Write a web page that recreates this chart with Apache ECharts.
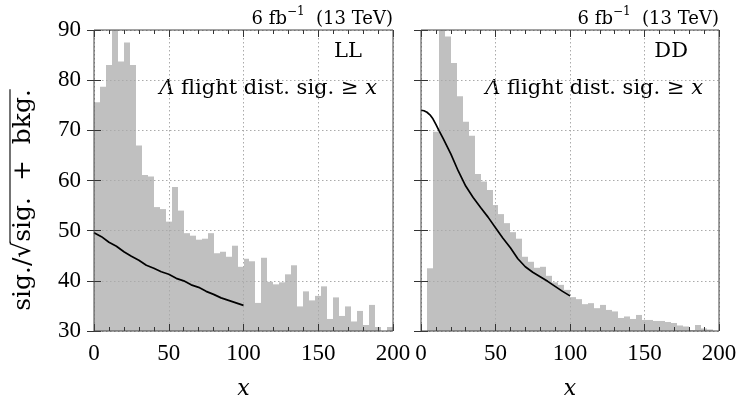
<!DOCTYPE html>
<html><head><meta charset="utf-8">
<script src="https://cdn.jsdelivr.net/npm/echarts@6/dist/echarts.min.js"></script>
<style>html,body{margin:0;padding:0;background:#fff}#c{width:740px;height:406px}</style>
</head><body><div id="c"></div>
<script>
// ---------- data ----------
const binLow  = [0,4,8,12,16,20,24,28,32,36,40,44,48,52,56,60,64,68,72,76,80,84,88,92,96,
                 100,104,108,112,116,120,124,128,132,136,140,144,148,152,156,160,164,168,172,176,180,184,188,192,196];
const binHigh = [4,8,12,16,20,24,28,32,36,40,44,48,52,56,60,64,68,72,76,80,84,88,92,96,100,
                 104,108,112,116,120,124,128,132,136,140,144,148,152,156,160,164,168,172,176,180,184,188,192,196,200];
const llValues = [75.6,78.7,83.0,91.0,83.7,87.5,83.0,67.0,61.1,60.8,
                  54.7,54.3,51.8,58.7,54.0,49.5,49.0,48.2,48.4,49.5,
                  45.5,45.8,44.8,47.0,42.8,44.4,43.9,35.6,44.6,39.8,
                  39.3,39.7,41.3,43.1,34.9,37.9,36.1,37.0,38.9,32.4,
                  36.7,33.0,34.9,31.9,34.0,31.2,35.2,30.8,29.0,30.8];
const ddValues = [29.0,42.5,69.7,92.0,88.7,83.4,76.8,71.7,68.9,61.3,
                  59.8,58.1,55.1,53.3,51.5,49.7,48.4,44.8,43.8,42.6,
                  42.8,41.0,39.7,39.2,38.2,36.75,36.35,35.35,35.55,34.55,
                  35.2,34.2,33.9,32.6,32.9,32.4,33.2,32.2,32.2,32.0,
                  32.0,31.8,31.6,31.1,30.9,30.2,31.2,30.5,30.3,29.0];
const llLineX = [0,5,10,15,20,25,30,35,40,45,50,55,60,65,70,75,80,85,90,95,100];
const llLineY = [49.6,48.8,47.7,46.9,45.8,44.9,44.1,43.1,42.5,41.8,41.3,40.5,40.0,39.2,38.7,37.9,37.3,36.6,36.1,35.6,35.1];
const ddLineX = [0,2,4,6,8,10,12,15,20,25,30,35,40,45,50,55,60,65,70,75,80,85,90,95,100];
const ddLineY = [74.0,73.9,73.6,73.1,72.3,71.2,70.0,68.3,65.3,61.9,58.9,56.6,54.6,52.7,50.6,48.5,46.6,44.4,42.8,41.7,40.8,39.9,38.9,37.9,37.0];
const xTicks = [0,50,100,150,200];
const yTicks = [30,40,50,60,70,80,90];
const panelTags = ['LL','DD'];
const lumiText = ['6 fb', '\u22121', '(13 TeV)'];
const yNamePrefix = 'sig./\u221A';
const yNameRadicand = 'sig.  +  bkg.';

// ---------- styling ----------
const FONT_TXT = '"DejaVu Serif", serif';
const FONT_NUM = '"Liberation Serif", serif';
const tickColor = '#333';
const barColor = '#c0c0c0';
const gridLeft = [94, 421];
const gridW = [299, 298];

const chart = echarts.init(document.getElementById('c'), null, {renderer: 'canvas'});

const yMin = yTicks[0], yMax = yTicks[yTicks.length - 1];
function renderBar(params, api) {
  const v = api.value(2);
  if (v <= yMin) return null;
  const top = Math.min(v, yMax);
  const p0 = api.coord([api.value(0), top]);
  const p1 = api.coord([api.value(1), yMin]);
  const x0 = Math.round(p0[0]), x1 = Math.round(p1[0]);
  return {type: 'rect', shape: {x: x0, y: p0[1], width: x1 - x0, height: p1[1] - p0[1]},
          style: {fill: barColor}};
}

const grids = [], xAxes = [], yAxes = [], series = [];
[0, 1].forEach(i => {
  grids.push({left: gridLeft[i], top: 30, width: gridW[i], height: 301, show: true,
              borderColor: '#444', borderWidth: 1, backgroundColor: 'transparent', z: 5});
  const xBase = {gridIndex: i, type: 'value', min: xTicks[0], max: xTicks[xTicks.length - 1], interval: 50, z: 2,
    axisLine: {show: false},
    axisTick: {show: true, inside: true, length: 7, lineStyle: {color: tickColor}},
    minorTick: {show: true, splitNumber: 5, length: 4, lineStyle: {color: tickColor}}};
  xAxes.push(Object.assign({}, xBase, {position: 'bottom',
    splitLine: {show: true, lineStyle: {color: '#aaa', type: [1.5, 2.5], width: 1}},
    axisLabel: {color: '#000', fontFamily: FONT_NUM, fontSize: 23, margin: 11},
    name: 'x', nameLocation: 'middle', nameGap: 47,
    nameTextStyle: {fontFamily: FONT_TXT, fontStyle: 'italic', fontSize: 22, color: '#000'}}));
  xAxes.push(Object.assign({}, xBase, {position: 'top', splitLine: {show: false}, axisLabel: {show: false}}));
  const yBase = {gridIndex: i, type: 'value', min: yMin, max: yMax, interval: 10, z: 2,
    axisLine: {show: false},
    axisTick: {show: true, inside: true, length: 7, lineStyle: {color: tickColor}}};
  yAxes.push(Object.assign({}, yBase, {position: 'left',
    splitLine: {show: true, lineStyle: {color: '#aaa', type: [1.5, 2.5], width: 1}},
    axisLabel: i === 0 ? {color: '#000', fontFamily: FONT_NUM, fontSize: 23, margin: 13} : {show: false}}));
  yAxes.push(Object.assign({}, yBase, {position: 'right', splitLine: {show: false}, axisLabel: {show: false}}));

  const vals = i === 0 ? llValues : ddValues;
  series.push({type: 'custom', xAxisIndex: 2 * i, yAxisIndex: 2 * i, z: 1, silent: true,
    renderItem: renderBar, data: binLow.map((lo, k) => [lo, binHigh[k], vals[k]])});
  const lx = i === 0 ? llLineX : ddLineX, ly = i === 0 ? llLineY : ddLineY;
  series.push({type: 'line', xAxisIndex: 2 * i, yAxisIndex: 2 * i, z: 3, showSymbol: false, silent: true,
    lineStyle: {color: '#000', width: 1.7}, data: lx.map((x, k) => [x, ly[k]])});
});

// text graphics
const ctx = document.createElement('canvas').getContext('2d');
const yNameSize = 25;
ctx.font = yNameSize + 'px "DejaVu Serif"';
const wP = ctx.measureText(yNamePrefix).width, wR = ctx.measureText(yNameRadicand).width;
const W = wP + wR;
const ycx = 23, ycy = 200;

const graphic = [
  {type: 'text', x: ycx, y: ycy, rotation: Math.PI / 2, silent: true,
   style: {text: yNamePrefix + yNameRadicand, font: yNameSize + 'px ' + FONT_TXT, fill: '#000',
           align: 'center', verticalAlign: 'middle'}},
  {type: 'line', silent: true, shape: {x1: ycx - 13, y1: ycy + W / 2 - wP + 1, x2: ycx - 13, y2: ycy - W / 2},
   style: {stroke: '#000', lineWidth: 1.1}}
];
[0, 1].forEach(i => {
  const right = gridLeft[i] + gridW[i];
  graphic.push({type: 'text', x: right, y: 17, silent: true,
    style: {text: '{m|' + lumiText[0] + '}{s|' + lumiText[1] + '}{m|  ' + lumiText[2] + '}',
      align: 'right', verticalAlign: 'middle', fill: '#000',
      rich: {m: {fontFamily: FONT_TXT, fontSize: 18, lineHeight: 22, verticalAlign: 'bottom'},
             s: {fontFamily: FONT_TXT, fontSize: 12, lineHeight: 12, verticalAlign: 'top'}}}});
  graphic.push({type: 'text', x: right - 31, y: 52, silent: true,
    style: {text: panelTags[i], font: '21px ' + FONT_TXT, fill: '#000', align: 'right', verticalAlign: 'middle'}});
  graphic.push({type: 'text', x: right - 16, y: 89, silent: true,
    style: {text: '{i|\u039B} flight dist. sig. \u2265 {i|x}', fontFamily: FONT_TXT, fontSize: 21, fill: '#000',
      align: 'right', verticalAlign: 'middle',
      rich: {i: {fontFamily: FONT_TXT, fontSize: 21, fontStyle: 'italic'}}}});
});

chart.setOption({
  animation: false,
  backgroundColor: '#fff',
  grid: grids, xAxis: xAxes, yAxis: yAxes, series: series, graphic: graphic
});
</script></body></html>
